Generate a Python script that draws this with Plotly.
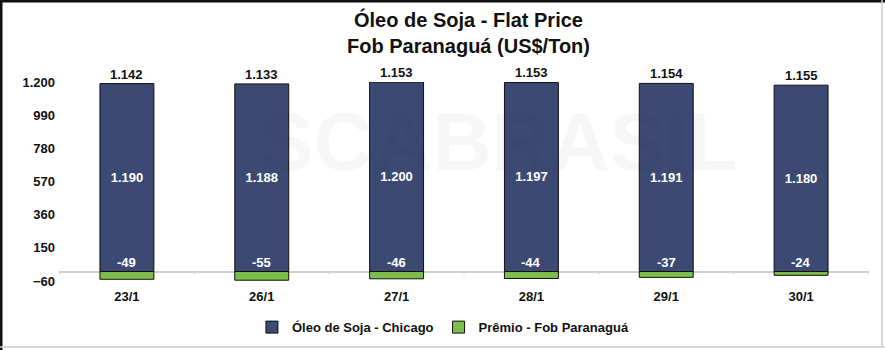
import plotly.graph_objects as go

categories = ["23/1", "26/1", "27/1", "28/1", "29/1", "30/1"]
chicago = [1190, 1188, 1200, 1197, 1191, 1180]
premio = [-49, -55, -46, -44, -37, -24]
flat_price = [1142, 1133, 1153, 1153, 1154, 1155]
y_ticks = [-60, 150, 360, 570, 780, 990, 1200]

BLUE = "#3c4a73"
GREEN = "#7dbd4b"
FONT = "Liberation Sans, Arial, sans-serif"
PW, PH = 810, 199  # plot area size in px

fig = go.Figure()
fig.add_trace(go.Bar(
    x=categories, y=chicago, name="Óleo de Soja - Chicago",
    marker=dict(color=BLUE, line=dict(color="#111111", width=1)),
    texttemplate="%{y:,.0f}", textposition="inside", insidetextanchor="middle",
    textfont=dict(color="white", size=13, family=FONT, weight="bold"), textangle=0,
))
fig.add_trace(go.Bar(
    x=categories, y=premio, name="Prêmio - Fob Paranaguá",
    marker=dict(color=GREEN, line=dict(color="#111111", width=1)),
    textposition="none",
))

annotations = []
for c, v, t in zip(categories, chicago, flat_price):
    annotations.append(dict(x=c, y=v, xref="x", yref="y", text=f"{t:,}".replace(",", "."),
                            showarrow=False, yanchor="bottom", yshift=0,
                            font=dict(size=13, color="#111111", family=FONT, weight="bold")))
for c, p in zip(categories, premio):
    annotations.append(dict(x=c, y=0, xref="x", yref="y", text=str(p),
                            showarrow=False, yanchor="bottom", yshift=0,
                            font=dict(size=13, color="white", family=FONT, weight="bold")))
# title
annotations.append(dict(x=0.5 + 4 / PW, y=1 + 76 / PH, xref="paper", yref="paper",
                        text="Óleo de Soja - Flat Price<br>Fob Paranaguá (US$/Ton)",
                        showarrow=False, yanchor="top", xanchor="center",
                        font=dict(size=20, color="#111111", family=FONT, weight="bold")))
# watermark
annotations.append(dict(x=0.542, y=0.70, xref="paper", yref="paper", text="SCABRASIL",
                        showarrow=False, xanchor="center", yanchor="middle",
                        font=dict(size=82, color="rgba(0,0,0,0.03)",
                                  family=FONT, weight="bold")))

shapes = []
# boundary tick marks under the zero line
for i in range(len(categories) + 1):
    shapes.append(dict(type="line", xref="x", yref="y", x0=i - 0.5, x1=i - 0.5,
                       y0=0, y1=-18, line=dict(color="#d0d0d0", width=1)))
# frame around the figure
shapes += [
    dict(type="line", xref="paper", yref="paper", x0=-58 / PW, x1=-58 / PW, y0=-69 / PH, y1=82 / PH + 1,
         line=dict(color="#111111", width=3)),
    dict(type="line", xref="paper", yref="paper", x0=-59 / PW, x1=1 + 16 / PW, y0=1 + 81 / PH, y1=1 + 81 / PH,
         line=dict(color="#111111", width=3)),
    dict(type="line", xref="paper", yref="paper", x0=1 + 13 / PW, x1=1 + 13 / PW, y0=-66 / PH, y1=1 + 82 / PH,
         line=dict(color="#cccccc", width=1.5)),
    dict(type="line", xref="paper", yref="paper", x0=-59 / PW, x1=1 + 16 / PW, y0=-66 / PH, y1=-66 / PH,
         line=dict(color="#cccccc", width=1.5)),
]

fig.update_layout(
    width=885, height=350,
    margin=dict(l=59, r=16, t=82, b=69, autoexpand=False),
    barmode="relative", bargap=0.6,
    separators=",.",
    plot_bgcolor="white", paper_bgcolor="white",
    font=dict(family=FONT, color="#111111"),
    showlegend=True,
    legend=dict(orientation="h", x=0.474, xanchor="center", y=-0.232, yanchor="middle",
                font=dict(size=13, color="#111111", family=FONT, weight="bold"), traceorder="normal",
                itemwidth=30),
    annotations=annotations, shapes=shapes,
)
fig.update_xaxes(showgrid=False, showline=False, ticks="", zeroline=False,
                 tickfont=dict(size=13, family=FONT, color="#111111", weight="bold"),
                 ticklabelstandoff=6)
fig.update_yaxes(range=[-60, 1200], tickvals=y_ticks, tickformat=",.0f",
                 showgrid=False, zeroline=True, zerolinecolor="#d0d0d0", zerolinewidth=1.5,
                 tickfont=dict(size=13, family=FONT, color="#111111", weight="bold"), ticks="",
                 showline=False, ticklabelstandoff=3)

fig.write_html("out.html")
